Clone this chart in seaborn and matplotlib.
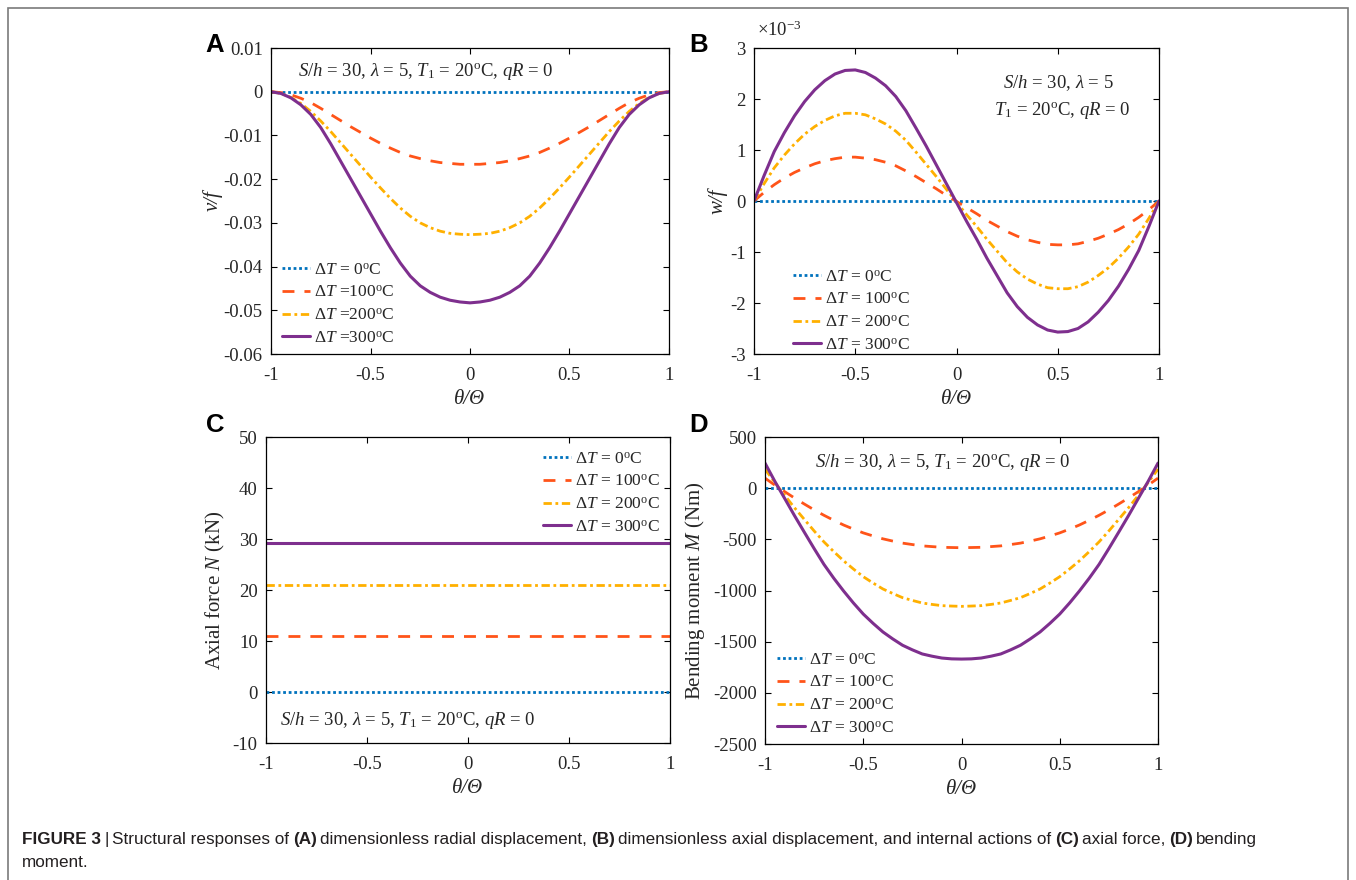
import matplotlib
matplotlib.use('Agg')
import matplotlib.pyplot as plt
import seaborn as sns
from matplotlib.ticker import FuncFormatter, MultipleLocator
from matplotlib.patches import Rectangle

# ---- data ----
theta = [-1.0, -0.95, -0.9, -0.85, -0.8, -0.75, -0.7, -0.65, -0.6, -0.55, -0.5,
         -0.45, -0.4, -0.35, -0.3, -0.25, -0.2, -0.15, -0.1, -0.05, 0.0,
         0.05, 0.1, 0.15, 0.2, 0.25, 0.3, 0.35, 0.4, 0.45, 0.5,
         0.55, 0.6, 0.65, 0.7, 0.75, 0.8, 0.85, 0.9, 0.95, 1.0]
zero_line = [0.0] * 41

# (A) v/f
v_100 = [0, -0.0002, -0.0007, -0.0015, -0.0025, -0.0038, -0.0052, -0.0066, -0.0080, -0.0093, -0.0106,
         -0.0118, -0.0129, -0.0139, -0.0147, -0.0153, -0.0158, -0.0162, -0.0164, -0.0166, -0.0166,
         -0.0166, -0.0164, -0.0162, -0.0158, -0.0153, -0.0147, -0.0139, -0.0129, -0.0118, -0.0106,
         -0.0093, -0.0080, -0.0066, -0.0052, -0.0038, -0.0025, -0.0015, -0.0007, -0.0002, 0]
v_200 = [0, -0.0004, -0.0013, -0.0027, -0.0045, -0.0067, -0.0091, -0.0117, -0.0143, -0.0169, -0.0195,
         -0.0220, -0.0244, -0.0266, -0.0285, -0.0300, -0.0311, -0.0319, -0.0324, -0.0326, -0.0327,
         -0.0326, -0.0324, -0.0319, -0.0311, -0.0300, -0.0285, -0.0266, -0.0244, -0.0220, -0.0195,
         -0.0169, -0.0143, -0.0117, -0.0091, -0.0067, -0.0045, -0.0027, -0.0013, -0.0004, 0]
v_300 = [0, -0.0004, -0.0014, -0.0030, -0.0052, -0.0082, -0.0119, -0.0159, -0.0199, -0.0239, -0.0279,
         -0.0319, -0.0357, -0.0392, -0.0422, -0.0444, -0.0459, -0.0470, -0.0477, -0.0481, -0.0483,
         -0.0481, -0.0477, -0.0470, -0.0459, -0.0444, -0.0422, -0.0392, -0.0357, -0.0319, -0.0279,
         -0.0239, -0.0199, -0.0159, -0.0119, -0.0082, -0.0052, -0.0030, -0.0014, -0.0004, 0]

# (B) w/f in units of 1e-3
w_100 = [0, 0.17, 0.32, 0.45, 0.56, 0.65, 0.73, 0.79, 0.83, 0.86, 0.86,
         0.84, 0.81, 0.76, 0.69, 0.59, 0.48, 0.36, 0.24, 0.11, -0.01,
         -0.13, -0.25, -0.38, -0.49, -0.60, -0.69, -0.76, -0.81, -0.85, -0.86,
         -0.86, -0.84, -0.79, -0.73, -0.65, -0.56, -0.45, -0.32, -0.17, 0]
w_200 = [0, 0.34, 0.65, 0.90, 1.12, 1.31, 1.46, 1.58, 1.67, 1.72, 1.72,
         1.69, 1.61, 1.51, 1.37, 1.19, 0.96, 0.72, 0.48, 0.23, -0.02,
         -0.27, -0.50, -0.75, -0.98, -1.21, -1.39, -1.53, -1.63, -1.70, -1.72,
         -1.72, -1.68, -1.59, -1.46, -1.31, -1.12, -0.90, -0.65, -0.34, 0]
w_300 = [0, 0.50, 0.97, 1.34, 1.67, 1.95, 2.18, 2.36, 2.49, 2.56, 2.57,
         2.52, 2.41, 2.26, 2.05, 1.77, 1.43, 1.08, 0.71, 0.34, -0.03,
         -0.40, -0.75, -1.12, -1.46, -1.80, -2.07, -2.28, -2.43, -2.53, -2.57,
         -2.56, -2.50, -2.37, -2.18, -1.95, -1.67, -1.34, -0.97, -0.50, 0]

# (C) axial force N (kN), constant along the arch
theta_ends = [-1.0, 1.0]
N_0 = [0.0, 0.0]
N_100 = [10.9, 10.9]
N_200 = [20.9, 20.9]
N_300 = [29.3, 29.3]

# (D) bending moment M (Nm)
M_100 = [98, 30, -34, -96, -155, -212, -265, -314, -360, -400, -437,
         -467, -495, -517, -537, -551, -564, -571, -578, -580, -582,
         -580, -578, -571, -564, -551, -537, -517, -495, -467, -437,
         -400, -360, -314, -265, -212, -155, -96, -34, 30, 98]
M_200 = [186, 55, -70, -191, -305, -418, -525, -620, -710, -790, -865,
         -927, -985, -1029, -1070, -1097, -1122, -1136, -1148, -1152, -1155,
         -1152, -1148, -1136, -1122, -1097, -1070, -1029, -985, -927, -865,
         -790, -710, -620, -525, -418, -305, -191, -70, 55, 186]
M_300 = [245, 67, -100, -268, -430, -590, -745, -880, -1005, -1122, -1230,
         -1321, -1405, -1473, -1535, -1580, -1620, -1642, -1660, -1668, -1670,
         -1668, -1660, -1642, -1620, -1580, -1535, -1473, -1405, -1321, -1230,
         -1122, -1005, -880, -745, -590, -430, -268, -100, 67, 245]

labels_A = [r'$\Delta T$ = 0$^{\rm o}$C', r'$\Delta T$ =100$^{\rm o}$C',
            r'$\Delta T$ =200$^{\rm o}$C', r'$\Delta T$ =300$^{\rm o}$C']
labels_B = [r'$\Delta T$ = 0$^{\rm o}$C', r'$\Delta T$ = 100$^{\rm o}$C',
            r'$\Delta T$ = 200$^{\rm o}$C', r'$\Delta T$ = 300$^{\rm o}$C']
params_1 = r'$S/h$ = 30, $\lambda$ = 5, $T_1$ = 20$^{\rm o}$C, $qR$ = 0'

# ---- style ----
sns.set_style('ticks')
plt.rcParams.update({
    'font.family': 'Liberation Serif',
    'mathtext.fontset': 'custom',
    'mathtext.rm': 'Liberation Serif',
    'mathtext.it': 'Liberation Serif:italic',
    'mathtext.bf': 'Liberation Serif:bold',
    'axes.unicode_minus': False,
    'axes.edgecolor': 'black',
    'axes.linewidth': 0.9,
    'xtick.direction': 'in', 'ytick.direction': 'in',
    'xtick.top': True, 'ytick.right': True,
    'xtick.major.size': 4, 'ytick.major.size': 4,
    'xtick.major.width': 0.8, 'ytick.major.width': 0.8,
    'xtick.major.pad': 9, 'ytick.major.pad': 6,
    'xtick.color': 'black', 'ytick.color': 'black',
    'xtick.labelcolor': '#262626', 'ytick.labelcolor': '#262626',
    'xtick.labelsize': 13.5, 'ytick.labelsize': 13.5,
})

colors = ['#0072BD', '#FF5419', '#FFB000', '#7E2F8E']
styles = [(0, (1, 1)), (0, (4.3, 3.6)), (0, (3, 1.3, 1, 1.3)), '-']
widths = [2.0, 2.0, 2.0, 2.2]

W, H = 1356, 880
fig = plt.figure(figsize=(W / 100, H / 100), dpi=100)
fig.patch.set_facecolor('white')


def px_axes(l, r, t, b):
    return fig.add_axes([l / W, 1 - b / H, (r - l) / W, (b - t) / H])


def fmt(v, _):
    v = round(v, 6)
    if v == 0:
        return '0'
    return f'{v:g}'


def draw(ax, x, series, labels):
    for y, lab, c, ls, lw in zip(series, labels, colors, styles, widths):
        sns.lineplot(x=x, y=y, ax=ax, color=c, linestyle=ls, linewidth=lw,
                     label=lab, errorbar=None, sort=False)
    ax.set_xlim(-1, 1)
    ax.xaxis.set_major_locator(MultipleLocator(0.5))
    ax.xaxis.set_major_formatter(FuncFormatter(fmt))
    ax.yaxis.set_major_formatter(FuncFormatter(fmt))
    ax.set_xlabel('θ/Θ', fontsize=15, fontstyle='italic', color='#262626')
    ax.xaxis.set_label_coords(0.5, -0.118)


def legend(ax, labels, x, y):
    ax.legend(ax.lines[:4], labels, loc='upper left',
              bbox_to_anchor=(x / W, 1 - y / H), bbox_transform=fig.transFigure,
              frameon=False, fontsize=12.5, handlelength=1.6, handletextpad=0.25,
              labelspacing=0.38, borderpad=0, borderaxespad=0)


# (A)
axA = px_axes(271, 669, 48, 354)
draw(axA, theta, [zero_line, v_100, v_200, v_300], labels_A)
axA.set_ylim(-0.06, 0.01)
axA.yaxis.set_major_locator(MultipleLocator(0.01))
axA.set_ylabel('v/f', fontsize=15, fontstyle='italic', color='#262626')
axA.yaxis.set_label_coords((223 - 271) / 398, 0.5)
legend(axA, labels_A, 282, 262)

# (B)
axB = px_axes(754, 1159, 48, 354)
draw(axB, theta, [zero_line, w_100, w_200, w_300], labels_B)
axB.set_ylim(-3, 3)
axB.yaxis.set_major_locator(MultipleLocator(1))
axB.set_ylabel('w/f', fontsize=15, fontstyle='italic', color='#262626')
axB.yaxis.set_label_coords((727 - 754) / 405, 0.5)
legend(axB, labels_B, 793, 269)

# (C)
axC = px_axes(266, 670, 437, 743)
draw(axC, theta_ends, [N_0, N_100, N_200, N_300], labels_B)
axC.set_ylim(-10, 50)
axC.yaxis.set_major_locator(MultipleLocator(10))
axC.set_ylabel(r'Axial force $N$ (kN)', fontsize=15, color='#262626')
axC.yaxis.set_label_coords((227 - 266) / 404, 0.5)
legend(axC, labels_B, 543, 451)

# (D)
axD = px_axes(765, 1158, 437, 744)
draw(axD, theta, [zero_line, M_100, M_200, M_300], labels_B)
axD.set_ylim(-2500, 500)
axD.yaxis.set_major_locator(MultipleLocator(500))
axD.set_ylabel(r'Bending moment $M$ (Nm)', fontsize=15, color='#262626')
axD.yaxis.set_label_coords((707 - 765) / 393, 0.5)
legend(axD, labels_B, 777, 652)


def ftext(x, y, s, **kw):
    return fig.text(x / W, 1 - y / H, s, **kw)


# parameter annotations
ann = dict(fontsize=13.5, color='#262626', va='baseline')
ftext(298, 76, params_1, ha='left', **ann)
ftext(1058, 88, r'$S/h$ = 30, $\lambda$ = 5', ha='center', **ann)
ftext(1062, 115, r'$T_1$ = 20$^{\rm o}$C, $qR$ = 0', ha='center', **ann)
ftext(280, 725, params_1, ha='left', **ann)
ftext(815, 467, params_1, ha='left', **ann)
ftext(779, 36, r'$\times$10$^{-3}$', ha='center', **ann)

# panel letters
for lab, x, y in [('A', 215, 52), ('B', 698.5, 52), ('C', 215, 432), ('D', 698.5, 432)]:
    ftext(x, y, lab, fontsize=18.5, fontweight='bold', family='Liberation Sans',
          ha='center', va='baseline', color='black')

# frame round the figure
fig.patches.append(Rectangle((8 / W, -0.02), 1340 / W, 1.02 - 8 / H, transform=fig.transFigure,
                             fill=False, edgecolor='#7a7a7a', linewidth=1.2))

# caption with bold parts
fig.canvas.draw()
renderer = fig.canvas.get_renderer()
cap_kw = dict(fontsize=12.3, family='Liberation Sans', color='#231f20', va='baseline')
space = 3.5
line1 = [('FIGURE 3', 'bold'), ('|', 'normal'), ('Structural responses of', 'normal'),
         ('(A)', 'bold'), ('dimensionless radial displacement,', 'normal'), ('(B)', 'bold'),
         ('dimensionless axial displacement, and internal actions of', 'normal'),
         ('(C)', 'bold'), ('axial force,', 'normal'), ('(D)', 'bold'), ('bending', 'normal')]
x = 22
for s, wgt in line1:
    t = ftext(x, 844, s, fontweight=wgt, **cap_kw)
    bb = t.get_window_extent(renderer=renderer)
    x = bb.x1 + space
ftext(22, 867, 'moment.', **cap_kw)

fig.savefig('out.png', dpi=100, facecolor='white')
